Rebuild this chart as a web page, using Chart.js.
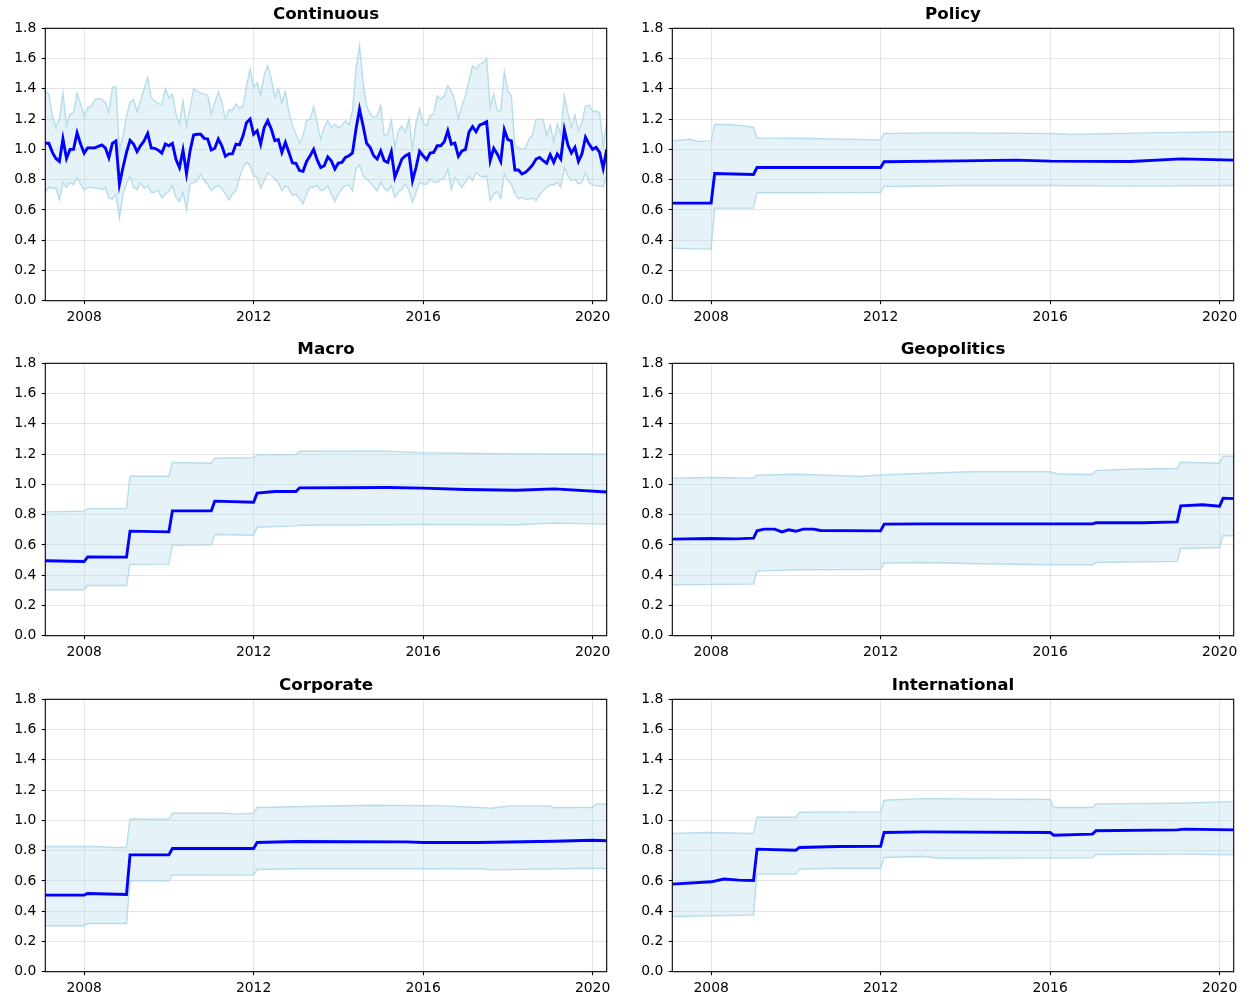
<!DOCTYPE html>
<html>
<head>
<meta charset="utf-8">
<script src="https://cdn.jsdelivr.net/npm/chart.js@4.4.1/dist/chart.umd.min.js"></script>
<style>
  body { margin: 0; background: #fff; width: 1250px; height: 1001px; overflow: hidden; position: relative; }
  canvas { position: absolute; }
</style>
</head>
<body>
<canvas id="p0" width="622" height="331" style="left:0px;top:0px"></canvas>
<canvas id="p1" width="622" height="331" style="left:627px;top:0px"></canvas>
<canvas id="p2" width="622" height="331" style="left:0px;top:335px"></canvas>
<canvas id="p3" width="622" height="331" style="left:627px;top:335px"></canvas>
<canvas id="p4" width="622" height="331" style="left:0px;top:671px"></canvas>
<canvas id="p5" width="622" height="331" style="left:627px;top:671px"></canvas>
<script>
// axis setup
const X_MIN = 2007 + 1 / 12;
const X_MAX = 2020 + 4 / 12;
const xTicks = [2008, 2012, 2016, 2020];
const yTicks = [0, 0.2, 0.4, 0.6, 0.8, 1.0, 1.2, 1.4, 1.6, 1.8];

// Continuous: monthly, Jan 2007 .. Apr 2020
const contMean = [
    1.04, 1.04, 0.98, 0.94, 0.92, 1.07, 0.94, 1.0, 1.0, 1.11, 1.035, 0.975,
    1.01, 1.01, 1.01, 1.02, 1.03, 1.01, 0.945, 1.04, 1.055, 0.77, 0.88, 0.98,
    1.06, 1.035, 0.985, 1.025, 1.057, 1.105, 1.01, 1.007, 0.995, 0.975, 1.035, 1.024,
    1.04, 0.935, 0.88, 0.995, 0.84, 0.99, 1.095, 1.1, 1.1, 1.073, 1.068, 0.996,
    1.007, 1.068, 1.024, 0.954, 0.97, 0.97, 1.035, 1.03, 1.09, 1.178, 1.2, 1.1,
    1.123, 1.035, 1.145, 1.19, 1.134, 1.057, 1.064, 0.98, 1.046, 0.98, 0.91, 0.908,
    0.86, 0.855, 0.92, 0.958, 1.0, 0.93, 0.88, 0.892, 0.95, 0.925, 0.87, 0.91,
    0.914, 0.947, 0.958, 0.976, 1.134, 1.266, 1.156, 1.04, 1.013, 0.958, 0.936, 0.99,
    0.925, 0.914, 0.985, 0.815, 0.875, 0.936, 0.958, 0.97, 0.793, 0.88, 0.987, 0.958,
    0.932, 0.976, 0.98, 1.024, 1.024, 1.05, 1.123, 1.035, 1.042, 0.954, 0.99, 1.0,
    1.115, 1.15, 1.116, 1.16, 1.17, 1.182, 0.925, 1.007, 0.97, 0.92, 1.13, 1.064,
    1.057, 0.864, 0.864, 0.837, 0.848, 0.87, 0.897, 0.936, 0.947, 0.925, 0.908, 0.965,
    0.914, 0.97, 0.936, 1.13, 1.03, 0.976, 1.013, 0.92, 0.97, 1.08, 1.035, 1.0,
    1.013, 0.98, 0.875, 1.0
];
const contUpper = [
    1.387, 1.365, 1.22, 1.145, 1.2, 1.375, 1.156, 1.233, 1.244, 1.37, 1.3, 1.22,
    1.277, 1.283, 1.327, 1.336, 1.33, 1.31, 1.244, 1.41, 1.415, 0.99, 1.09, 1.22,
    1.31, 1.33, 1.25, 1.32, 1.4, 1.475, 1.343, 1.32, 1.303, 1.295, 1.4, 1.343,
    1.365, 1.233, 1.167, 1.32, 1.156, 1.277, 1.4, 1.387, 1.37, 1.365, 1.358, 1.233,
    1.31, 1.38, 1.31, 1.2, 1.26, 1.26, 1.3, 1.27, 1.288, 1.42, 1.53, 1.41,
    1.442, 1.358, 1.49, 1.552, 1.468, 1.343, 1.4, 1.31, 1.38, 1.244, 1.156, 1.1,
    1.04, 1.09, 1.19, 1.2, 1.283, 1.178, 1.064, 1.145, 1.19, 1.145, 1.167, 1.145,
    1.156, 1.19, 1.16, 1.255, 1.53, 1.684, 1.442, 1.288, 1.233, 1.211, 1.222, 1.292,
    1.09, 1.1, 1.193, 1.013, 1.123, 1.156, 1.112, 1.2, 1.002, 1.178, 1.266, 1.178,
    1.156, 1.222, 1.233, 1.354, 1.33, 1.354, 1.42, 1.387, 1.32, 1.2, 1.288, 1.36,
    1.45, 1.552, 1.53, 1.563, 1.57, 1.6, 1.277, 1.365, 1.255, 1.255, 1.512, 1.387,
    1.354, 1.024, 1.013, 1.002, 1.007, 1.068, 1.095, 1.2, 1.2, 1.196, 1.09, 1.16,
    1.05, 1.167, 1.095, 1.354, 1.244, 1.145, 1.226, 1.123, 1.178, 1.288, 1.292, 1.255,
    1.25, 1.244, 1.024, 1.182
];
const contLower = [
    0.72, 0.75, 0.743, 0.745, 0.668, 0.78, 0.75, 0.78, 0.767, 0.81, 0.77, 0.73,
    0.747, 0.75, 0.743, 0.743, 0.734, 0.75, 0.677, 0.672, 0.7, 0.545, 0.705, 0.77,
    0.826, 0.75, 0.734, 0.78, 0.743, 0.76, 0.716, 0.716, 0.73, 0.677, 0.705, 0.727,
    0.76, 0.684, 0.655, 0.716, 0.6, 0.77, 0.78, 0.793, 0.837, 0.793, 0.77, 0.727,
    0.75, 0.76, 0.74, 0.705, 0.666, 0.705, 0.727, 0.815, 0.88, 0.914, 0.892, 0.826,
    0.815, 0.743, 0.793, 0.844, 0.826, 0.804, 0.78, 0.727, 0.76, 0.74, 0.695, 0.705,
    0.673, 0.64, 0.705, 0.75, 0.75, 0.76, 0.727, 0.734, 0.76, 0.705, 0.655, 0.705,
    0.74, 0.76, 0.765, 0.727, 0.87, 0.897, 0.826, 0.804, 0.782, 0.75, 0.727, 0.782,
    0.743, 0.727, 0.76, 0.684, 0.716, 0.738, 0.77, 0.727, 0.65, 0.716, 0.782, 0.77,
    0.77, 0.804, 0.782, 0.782, 0.8, 0.809, 0.87, 0.734, 0.815, 0.782, 0.75, 0.782,
    0.826, 0.793, 0.848, 0.826, 0.815, 0.826, 0.662, 0.705, 0.72, 0.673, 0.837, 0.793,
    0.77, 0.705, 0.673, 0.684, 0.668, 0.673, 0.677, 0.662, 0.7, 0.727, 0.75, 0.767,
    0.765, 0.782, 0.75, 0.88, 0.826, 0.793, 0.804, 0.77, 0.782, 0.848, 0.782, 0.765,
    0.76, 0.76, 0.754, 0.826
];

// Step-like panels: [year, value] read at the corners of each series
const policyMean = [[2007.083, 0.645], [2008.0, 0.645], [2008.083, 0.84], [2009.0, 0.834], [2009.083, 0.88], [2012.0, 0.88], [2012.083, 0.918], [2013.9, 0.924], [2015.2, 0.929], [2016.0, 0.922], [2017.9, 0.92], [2019.1, 0.937], [2020.333, 0.929]];
const policyUpper = [[2007.083, 1.056], [2007.5, 1.067], [2007.67, 1.052], [2008.0, 1.056], [2008.083, 1.164], [2008.43, 1.164], [2009.0, 1.147], [2009.083, 1.076], [2010.34, 1.072], [2012.0, 1.063], [2012.083, 1.105], [2013.36, 1.109], [2016.0, 1.105], [2016.46, 1.098], [2018.33, 1.109], [2020.333, 1.116]];
const policyLower = [[2007.083, 0.346], [2008.0, 0.341], [2008.083, 0.612], [2009.0, 0.612], [2009.083, 0.713], [2012.0, 0.715], [2012.083, 0.755], [2013.9, 0.761], [2016.0, 0.761], [2017.9, 0.757], [2020.333, 0.761]];

const macroMean = [[2007.083, 0.495], [2008.0, 0.49], [2008.083, 0.521], [2009.0, 0.519], [2009.083, 0.691], [2010.0, 0.686], [2010.083, 0.825], [2011.0, 0.825], [2011.083, 0.889], [2012.0, 0.882], [2012.083, 0.942], [2012.5, 0.953], [2013.0, 0.953], [2013.083, 0.977], [2015.2, 0.979], [2016.0, 0.975], [2017.0, 0.966], [2018.2, 0.961], [2019.1, 0.97], [2020.333, 0.95]];
const macroUpper = [[2007.083, 0.818], [2008.0, 0.823], [2008.083, 0.84], [2009.0, 0.84], [2009.083, 1.054], [2010.0, 1.054], [2010.083, 1.144], [2011.0, 1.14], [2011.083, 1.173], [2012.0, 1.177], [2012.083, 1.195], [2013.0, 1.197], [2013.083, 1.219], [2015.0, 1.221], [2016.0, 1.21], [2018.2, 1.201], [2020.333, 1.2]];
const macroLower = [[2007.083, 0.304], [2008.0, 0.304], [2008.083, 0.332], [2009.0, 0.332], [2009.083, 0.471], [2010.0, 0.473], [2010.083, 0.598], [2011.0, 0.6], [2011.083, 0.669], [2012.0, 0.664], [2012.083, 0.717], [2013.0, 0.726], [2013.083, 0.73], [2016.0, 0.735], [2018.2, 0.733], [2019.1, 0.744], [2020.333, 0.737]];

const geoMean = [[2007.083, 0.638], [2008.0, 0.642], [2008.6, 0.64], [2009.0, 0.645], [2009.083, 0.693], [2009.25, 0.704], [2009.5, 0.704], [2009.67, 0.686], [2009.83, 0.7], [2010.0, 0.69], [2010.17, 0.704], [2010.42, 0.704], [2010.58, 0.695], [2012.0, 0.693], [2012.083, 0.737], [2013.0, 0.739], [2017.0, 0.739], [2017.083, 0.746], [2018.2, 0.746], [2019.0, 0.752], [2019.083, 0.858], [2019.6, 0.865], [2020.0, 0.856], [2020.083, 0.909], [2020.333, 0.906]];
const geoUpper = [[2007.083, 1.041], [2008.0, 1.045], [2009.0, 1.041], [2009.083, 1.06], [2010.0, 1.067], [2011.2, 1.056], [2011.5, 1.052], [2012.0, 1.063], [2012.6, 1.069], [2014.1, 1.083], [2016.0, 1.083], [2016.17, 1.069], [2017.0, 1.065], [2017.083, 1.091], [2017.8, 1.1], [2019.0, 1.105], [2019.083, 1.146], [2020.0, 1.14], [2020.083, 1.186], [2020.333, 1.186]];
const geoLower = [[2007.083, 0.337], [2009.0, 0.341], [2009.083, 0.427], [2010.0, 0.436], [2012.0, 0.438], [2012.083, 0.48], [2013.0, 0.484], [2014.3, 0.475], [2016.0, 0.469], [2017.0, 0.469], [2017.083, 0.484], [2019.0, 0.491], [2019.083, 0.576], [2020.0, 0.583], [2020.083, 0.662], [2020.333, 0.66]];

const corpMean = [[2007.083, 0.506], [2008.0, 0.506], [2008.083, 0.517], [2009.0, 0.51], [2009.083, 0.772], [2010.0, 0.772], [2010.083, 0.814], [2012.0, 0.814], [2012.083, 0.854], [2013.0, 0.86], [2015.6, 0.858], [2016.0, 0.854], [2017.3, 0.854], [2019.1, 0.862], [2020.0, 0.869], [2020.333, 0.865]];
const corpUpper = [[2007.083, 0.827], [2008.25, 0.827], [2008.7, 0.821], [2009.0, 0.821], [2009.083, 1.01], [2010.0, 1.008], [2010.083, 1.047], [2011.3, 1.047], [2011.65, 1.041], [2012.0, 1.047], [2012.083, 1.085], [2014.75, 1.1], [2016.5, 1.096], [2017.6, 1.08], [2018.05, 1.096], [2019.0, 1.096], [2019.083, 1.083], [2020.0, 1.087], [2020.083, 1.107], [2020.333, 1.107]];
const corpLower = [[2007.083, 0.304], [2008.0, 0.304], [2008.083, 0.319], [2009.0, 0.319], [2009.083, 0.601], [2010.0, 0.601], [2010.083, 0.64], [2012.0, 0.638], [2012.083, 0.675], [2013.0, 0.68], [2016.0, 0.68], [2017.3, 0.682], [2017.6, 0.673], [2020.0, 0.684], [2020.333, 0.682]];

const intlMean = [[2007.083, 0.579], [2008.0, 0.594], [2008.3, 0.612], [2008.65, 0.605], [2009.0, 0.603], [2009.083, 0.81], [2010.0, 0.803], [2010.083, 0.821], [2011.0, 0.827], [2012.0, 0.829], [2012.083, 0.92], [2013.0, 0.924], [2016.0, 0.92], [2016.083, 0.902], [2017.0, 0.909], [2017.083, 0.931], [2019.0, 0.937], [2019.17, 0.942], [2020.333, 0.937]];
const intlUpper = [[2007.083, 0.913], [2007.9, 0.92], [2009.0, 0.913], [2009.083, 1.021], [2010.0, 1.021], [2010.083, 1.054], [2012.0, 1.056], [2012.083, 1.133], [2013.0, 1.144], [2016.0, 1.138], [2016.083, 1.085], [2017.0, 1.085], [2017.083, 1.109], [2019.0, 1.113], [2020.333, 1.124]];
const intlLower = [[2007.083, 0.365], [2009.0, 0.374], [2009.083, 0.645], [2010.0, 0.645], [2010.083, 0.678], [2011.0, 0.684], [2012.0, 0.684], [2012.083, 0.755], [2013.0, 0.761], [2013.4, 0.75], [2017.0, 0.752], [2017.083, 0.774], [2019.0, 0.777], [2020.333, 0.772]];

const MEAN_COLOR = '#0000ff';
const BAND_FILL = 'rgba(173, 216, 230, 0.32)';
const BAND_EDGE = 'rgba(173, 216, 230, 0.85)';
const GRID = 'rgba(176, 176, 176, 0.33)';
const FONT = 'DejaVu Sans';

// month-end positions for the continuous series
const contX = contMean.map((_, i) => 2007 + (i + 1) / 12);
const monthly = (vals) => vals.map((v, i) => ({ x: contX[i], y: v }));
const pairs = (arr) => arr.map(p => ({ x: p[0], y: p[1] }));

// matplotlib-like box around the plot area
const framePlugin = {
    id: 'frame',
    afterDatasetsDraw(chart) {
        const { ctx, chartArea: a } = chart;
        ctx.save();
        ctx.strokeStyle = '#000';
        ctx.lineWidth = 1.1;
        ctx.strokeRect(a.left, a.top, a.right - a.left, a.bottom - a.top);
        ctx.restore();
    }
};

function makePanel(id, title, upper, lower, mean) {
    const ctx = document.getElementById(id).getContext('2d');
    const tickFont = { family: FONT, size: 13.9 };
    return new Chart(ctx, {
        type: 'line',
        data: {
            datasets: [
                { data: upper, borderColor: BAND_EDGE, borderWidth: 1.4, pointRadius: 0, fill: '+1', backgroundColor: BAND_FILL, order: 1 },
                { data: lower, borderColor: BAND_EDGE, borderWidth: 1.4, pointRadius: 0, fill: false, order: 2 },
                { data: mean, borderColor: MEAN_COLOR, borderWidth: 2.9, pointRadius: 0, fill: false, order: 0 }
            ]
        },
        options: {
            responsive: false,
            animation: false,
            layout: { padding: { left: 0, right: 15.3, top: 0, bottom: 0 } },
            plugins: {
                legend: { display: false },
                tooltip: { enabled: false },
                title: {
                    display: true,
                    fullSize: false,
                    text: title,
                    color: '#000',
                    font: { family: FONT, size: 16.67, weight: 'bold' },
                    padding: { top: 4.5, bottom: 3.8 }
                }
            },
            scales: {
                x: {
                    type: 'linear',
                    min: X_MIN,
                    max: X_MAX,
                    afterBuildTicks: ax => { ax.ticks = xTicks.map(v => ({ value: v })); },
                    afterFit: s => { s.height = 30.3; },
                    ticks: { callback: v => String(v), font: tickFont, color: '#000', padding: 5, maxRotation: 0, autoSkip: false },
                    grid: { color: GRID, lineWidth: 1, tickColor: '#000', tickLength: 3.5, tickWidth: 1.1 },
                    border: { display: false }
                },
                y: {
                    min: 0,
                    max: 1.8,
                    afterBuildTicks: ax => { ax.ticks = yTicks.map(v => ({ value: v })); },
                    afterFit: s => { s.width = 45.3; },
                    ticks: { callback: v => v.toFixed(1), font: tickFont, color: '#000', padding: 5.5 },
                    grid: { color: GRID, lineWidth: 1, tickColor: '#000', tickLength: 3.5, tickWidth: 1.1 },
                    border: { display: false }
                }
            }
        },
        plugins: [framePlugin]
    });
}

makePanel('p0', 'Continuous', monthly(contUpper), monthly(contLower), monthly(contMean));
makePanel('p1', 'Policy', pairs(policyUpper), pairs(policyLower), pairs(policyMean));
makePanel('p2', 'Macro', pairs(macroUpper), pairs(macroLower), pairs(macroMean));
makePanel('p3', 'Geopolitics', pairs(geoUpper), pairs(geoLower), pairs(geoMean));
makePanel('p4', 'Corporate', pairs(corpUpper), pairs(corpLower), pairs(corpMean));
makePanel('p5', 'International', pairs(intlUpper), pairs(intlLower), pairs(intlMean));
</script>
</body>
</html>
